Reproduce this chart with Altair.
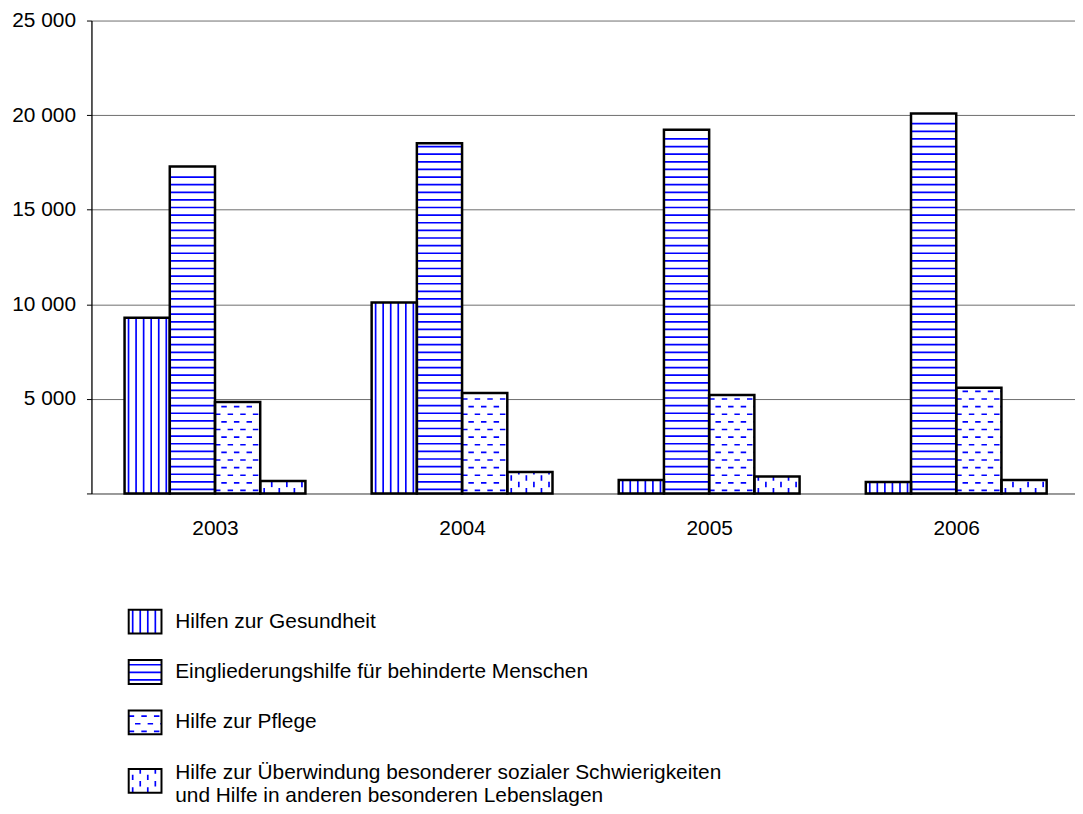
import altair as alt
import pandas as pd

# ---------------- data ----------------
years = ["2003", "2004", "2005", "2006"]
series = [
    "Hilfen zur Gesundheit",
    "Eingliederungshilfe für behinderte Menschen",
    "Hilfe zur Pflege",
    "Hilfe zur Überwindung besonderer sozialer Schwierigkeiten\nund Hilfe in anderen besonderen Lebenslagen",
]
gesundheit = [9290, 10090, 710, 610]
eingliederung = [17280, 18510, 19230, 20090]
pflege = [4830, 5310, 5210, 5590]
sozial = [660, 1130, 890, 710]
values = [gesundheit, eingliederung, pflege, sozial]
pattern_kinds = ["vlines", "hlines", "hdash", "vdash"]
y_ticks = [0, 5000, 10000, 15000, 20000, 25000]

# ---------------- style / layout ----------------
FONT = "Liberation Sans"
BLUE = "#0000ff"
Y_MAX = 25000
W, H = 990, 476
STEP_PX = 248.7
X_MAX = W / STEP_PX
GROUP_OFF = 0.134
BAR_W = 0.183
PX_Y = Y_MAX / H
DASH = [5.5, 7.2]
DASH_SHIFT = 6.35
LINE_W = 1.7


def pattern(kind, w, h):
    """Hatch segments in px, relative to bottom-left of a box (y upward)."""
    segs = []
    if kind in ("vlines", "vdash"):
        k, x = 0, 4.0
        while x < w - 1.5:
            segs.append((x, x, 0.0, h, (k % 2) if kind == "vdash" else 0, kind == "vdash"))
            k += 1
            x = 4.0 + k * 7.6
    else:
        start = 4.0 if kind == "hlines" else 3.0
        k, y = 0, start
        while y < h - 3:
            segs.append((0.0, w, y, y, (k % 2) if kind == "hdash" else 0, kind == "hdash"))
            k += 1
            y = start + k * 7.67
    return segs


# ---------------- main chart tables ----------------
bars, solid, dash0, dash1 = [], [], [], []
for j, (name, vals, kind) in enumerate(zip(series, values, pattern_kinds)):
    for i, (yr, v) in enumerate(zip(years, vals)):
        x0 = i + GROUP_OFF + j * BAR_W
        x1 = x0 + BAR_W
        bars.append(dict(xa=x0, xb=x1, ya=0, yb=v, year=yr, series=name))
        for dxa, dxb, dya, dyb, par, dashed in pattern(kind, BAR_W * STEP_PX, v / PX_Y):
            row = dict(xa=x0 + dxa / STEP_PX, xb=x0 + dxb / STEP_PX,
                       ya=dya * PX_Y, yb=dyb * PX_Y)
            if dashed:
                (dash1 if par else dash0).append(row)
            else:
                solid.append(row)

df_bars = pd.DataFrame(bars)
df_solid = pd.DataFrame(solid)
df_d0 = pd.DataFrame(dash0)
df_d1 = pd.DataFrame(dash1)

year_expr = "[" + ",".join(f"'{y}'" for y in years) + "][floor(datum.value)]"

x_axis = alt.Axis(values=[i + 0.5 for i in range(len(years))], labelExpr=year_expr,
                  ticks=False, grid=False, domainColor="#909090", domainWidth=1.5,
                  labelFontSize=21, labelFont=FONT, labelColor="black",
                  labelPadding=24, title=None)
y_axis = alt.Axis(values=y_ticks, grid=True, gridColor="#6e6e6e", gridWidth=1,
                  domainColor="black", domainWidth=1.3, tickColor="black", tickSize=5,
                  labelFontSize=21, labelFont=FONT, labelColor="black", labelPadding=11,
                  labelExpr="datum.value == 0 ? '' : replace(format(datum.value, ','), ',', ' ')",
                  title=None)

enc = dict(
    x=alt.X("xa:Q", scale=alt.Scale(domain=[0, X_MAX], nice=False, zero=False), axis=x_axis),
    x2="xb:Q",
    y=alt.Y("ya:Q", scale=alt.Scale(domain=[0, Y_MAX], nice=False), axis=y_axis),
    y2="yb:Q",
)

fill = alt.Chart(df_bars).mark_rect(fill="white", strokeWidth=0).encode(**enc)
hatch = alt.Chart(df_solid).mark_rule(color=BLUE, strokeWidth=LINE_W).encode(**enc)
hd0 = alt.Chart(df_d0).mark_rule(color=BLUE, strokeWidth=LINE_W, strokeDash=DASH).encode(**enc)
hd1 = alt.Chart(df_d1).mark_rule(color=BLUE, strokeWidth=LINE_W, strokeDash=DASH,
                                 strokeDashOffset=DASH_SHIFT).encode(**enc)
outline = alt.Chart(df_bars).mark_rect(fillOpacity=0, stroke="black", strokeWidth=2.5).encode(**enc)

main = alt.layer(fill, hatch, hd0, hd1, outline).properties(width=W, height=H)

# ---------------- custom legend ----------------
LEG_X0, LEG_Y0 = 90, 557          # page position of legend panel origin
LW, LH = 700, 236
SYM_X, SYM_W, SYM_H = 127.5, 33, 24
TEXT_X = 174.3
FIRST_LINE_Y, ENTRY_STEP, LINE_STEP = 621, 50.75, 23.5

leg_sym, leg_solid, leg_d0, leg_d1, leg_text = [], [], [], [], []
for k, (name, kind) in enumerate(zip(series, pattern_kinds)):
    lines = name.split("\n")
    y_line1 = FIRST_LINE_Y + k * ENTRY_STEP
    for li, txt in enumerate(lines):
        leg_text.append(dict(xa=TEXT_X - LEG_X0, ya=y_line1 + li * LINE_STEP - LEG_Y0, label=txt))
    cy = y_line1 + 8 * (len(lines) - 1) - LEG_Y0
    sx0 = SYM_X - LEG_X0
    top, bottom = cy - SYM_H / 2, cy + SYM_H / 2
    leg_sym.append(dict(xa=sx0, xb=sx0 + SYM_W, ya=top, yb=bottom))
    for dxa, dxb, dya, dyb, par, dashed in pattern(kind, SYM_W, SYM_H):
        row = dict(xa=sx0 + dxa, xb=sx0 + dxb, ya=bottom - dya, yb=bottom - dyb)
        if dashed:
            (leg_d1 if par else leg_d0).append(row)
        else:
            leg_solid.append(row)

lenc = dict(
    x=alt.X("xa:Q", scale=alt.Scale(domain=[0, LW], nice=False, zero=False), axis=None),
    x2="xb:Q",
    y=alt.Y("ya:Q", scale=alt.Scale(domain=[0, LH], nice=False, zero=False, reverse=True), axis=None),
    y2="yb:Q",
)
lenc_text = dict(
    x=alt.X("xa:Q", scale=alt.Scale(domain=[0, LW], nice=False, zero=False), axis=None),
    y=alt.Y("ya:Q", scale=alt.Scale(domain=[0, LH], nice=False, zero=False, reverse=True), axis=None),
    text="label:N",
)

l_fill = alt.Chart(pd.DataFrame(leg_sym)).mark_rect(fill="white", strokeWidth=0).encode(**lenc)
l_hatch = alt.Chart(pd.DataFrame(leg_solid)).mark_rule(color=BLUE, strokeWidth=LINE_W).encode(**lenc)
l_d0 = alt.Chart(pd.DataFrame(leg_d0)).mark_rule(color=BLUE, strokeWidth=LINE_W, strokeDash=DASH).encode(**lenc)
l_d1 = alt.Chart(pd.DataFrame(leg_d1)).mark_rule(color=BLUE, strokeWidth=LINE_W, strokeDash=DASH,
                                                 strokeDashOffset=DASH_SHIFT).encode(**lenc)
l_out = alt.Chart(pd.DataFrame(leg_sym)).mark_rect(fillOpacity=0, stroke="black", strokeWidth=2).encode(**lenc)
l_text = alt.Chart(pd.DataFrame(leg_text)).mark_text(
    align="left", baseline="middle", font=FONT, fontSize=21, color="black"
).encode(**lenc_text)

legend = alt.layer(l_fill, l_hatch, l_d0, l_d1, l_out, l_text).properties(width=LW, height=LH)

chart = alt.vconcat(main, legend, spacing=20).properties(
    padding={"left": 3, "top": -1, "right": 0, "bottom": 0},
    background="white",
).configure_view(stroke="transparent", strokeWidth=0)

chart.save("out.html", embed_options={"renderer": "svg", "actions": False})
